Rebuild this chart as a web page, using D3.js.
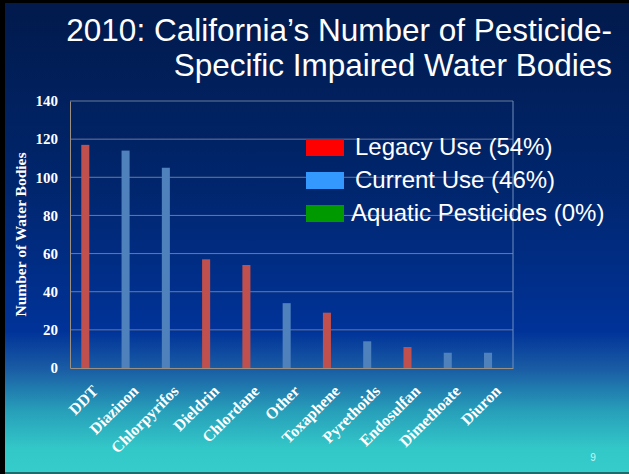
<!DOCTYPE html>
<html>
<head>
<meta charset="utf-8">
<script src="https://cdn.jsdelivr.net/npm/d3@7"></script>
<style>
  html, body { margin: 0; padding: 0; background: #000; }
  svg { display: block; }
</style>
</head>
<body>
<div id="chart"></div>
<script>
// Chart data
const categories = ["DDT", "Diazinon", "Chlorpyrifos", "Dieldrin", "Chlordane", "Other",
                    "Toxaphene", "Pyrethoids", "Endosulfan", "Dimethoate", "Diuron"];
const values = [117, 114, 105, 57, 54, 34, 29, 14, 11, 8, 8];
const useType = ["legacy", "current", "current", "legacy", "legacy", "current",
                 "legacy", "current", "legacy", "current", "current"];
const yTicks = [0, 20, 40, 60, 80, 100, 120, 140];
const legendLabels = ["Legacy Use (54%)", "Current Use (46%)", "Aquatic Pesticides (0%)"];
const legendColors = ["#ff0000", "#3399ff", "#009900"];
const titleLines = ["2010: California\u2019s Number of Pesticide-", "Specific Impaired Water Bodies"];

const W = 629, H = 474;
const barColor = { legacy: "#c0504d", current: "#4f81bd" };

const svg = d3.select("#chart").append("svg")
    .attr("width", W)
    .attr("height", H);

// Background gradient
const defs = svg.append("defs");
const grad = defs.append("linearGradient")
    .attr("id", "bg")
    .attr("x1", 0).attr("y1", 0).attr("x2", 0).attr("y2", 1);
grad.append("stop").attr("offset", "0%").attr("stop-color", "#021a4c");
grad.append("stop").attr("offset", "40%").attr("stop-color", "#00266e");
grad.append("stop").attr("offset", "70%").attr("stop-color", "#003399");
grad.append("stop").attr("offset", "78%").attr("stop-color", "#1a5ca4");
grad.append("stop").attr("offset", "87%").attr("stop-color", "#279fba");
grad.append("stop").attr("offset", "95%").attr("stop-color", "#33c8c8");
grad.append("stop").attr("offset", "100%").attr("stop-color", "#35cccb");

svg.append("rect")
    .attr("x", 5).attr("y", 3)
    .attr("width", W - 5).attr("height", H - 5)
    .attr("fill", "url(#bg)");
svg.append("rect")
    .attr("x", 5).attr("y", H - 2)
    .attr("width", W - 5).attr("height", 2)
    .attr("fill", "#1d6b6b");

// Title
svg.append("g").selectAll("text")
    .data(titleLines)
    .join("text")
    .attr("x", 612)
    .attr("y", (d, i) => 41 + i * 35)
    .attr("text-anchor", "end")
    .attr("font-family", "Liberation Sans, Arial, sans-serif")
    .attr("font-size", 31.5)
    .attr("fill", "#ffffff")
    .text(d => d);

// Plot area
const margin = { left: 70, right: 116, top: 101, bottom: 106 };
const innerW = W - margin.left - margin.right;
const innerH = H - margin.top - margin.bottom;

const x = d3.scaleBand()
    .domain(categories)
    .range([0, innerW])
    .padding(0);

const y = d3.scaleLinear()
    .domain([0, 140])
    .range([innerH, 0]);

const g = svg.append("g")
    .attr("transform", `translate(${margin.left},${margin.top})`);

// Gridlines
g.append("g")
    .selectAll("line")
    .data(yTicks.slice(1))
    .join("line")
    .attr("x1", 0).attr("x2", innerW)
    .attr("y1", d => y(d)).attr("y2", d => y(d))
    .attr("stroke", "#6a7a9a")
    .attr("stroke-width", 1);

// Right edge of plot border
g.append("line")
    .attr("x1", innerW).attr("x2", innerW)
    .attr("y1", 0).attr("y2", innerH)
    .attr("stroke", "#6f8fc0");

// Bars
const bw = x.bandwidth() * 0.2;
g.append("g")
    .selectAll("rect")
    .data(categories)
    .join("rect")
    .attr("x", (d) => x(d) + x.bandwidth() * 0.28)
    .attr("y", (d, i) => y(values[i]))
    .attr("width", bw)
    .attr("height", (d, i) => y(0) - y(values[i]))
    .attr("fill", (d, i) => barColor[useType[i]]);

// Y axis
const yAxis = g.append("g")
    .call(d3.axisLeft(y).tickValues(yTicks).tickSize(0).tickPadding(12));
yAxis.select(".domain").attr("stroke", "#9a8f80");
yAxis.selectAll("text")
    .attr("font-family", "Liberation Serif, Times New Roman, serif")
    .attr("font-weight", "bold")
    .attr("font-size", 15)
    .attr("fill", "#ffffff");

// X axis
const xAxis = g.append("g")
    .attr("transform", `translate(0,${innerH})`)
    .call(d3.axisBottom(x).tickSize(0).tickPadding(0));
xAxis.select(".domain").attr("stroke", "#9a8f80");
xAxis.selectAll("text")
    .attr("font-family", "Liberation Serif, Times New Roman, serif")
    .attr("font-weight", "bold")
    .attr("font-size", 16)
    .attr("fill", "#ffffff")
    .attr("text-anchor", "end")
    .attr("dy", 0)
    .attr("y", 0)
    .attr("transform", "translate(9,24) rotate(-45)");

// Y axis title
svg.append("text")
    .attr("transform", `translate(26,${margin.top + innerH / 2}) rotate(-90)`)
    .attr("text-anchor", "middle")
    .attr("font-family", "Liberation Serif, Times New Roman, serif")
    .attr("font-weight", "bold")
    .attr("font-size", 15.5)
    .attr("fill", "#ffffff")
    .text("Number of Water Bodies");

// Legend
const legend = svg.append("g")
    .selectAll("g")
    .data(legendLabels)
    .join("g")
    .attr("transform", (d, i) => `translate(306,${139 + i * 33})`);
legend.append("rect")
    .attr("width", 38).attr("height", 17)
    .attr("fill", (d, i) => legendColors[i]);
legend.append("text")
    .attr("x", (d, i) => i === 2 ? 45 : 49)
    .attr("y", 16)
    .attr("font-family", "Liberation Sans, Arial, sans-serif")
    .attr("font-size", 24)
    .attr("fill", "#ffffff")
    .text(d => d);

// Slide number
svg.append("text")
    .attr("x", 593).attr("y", 461)
    .attr("text-anchor", "middle")
    .attr("font-family", "Liberation Sans, Arial, sans-serif")
    .attr("font-size", 10)
    .attr("fill", "#c8f4f4")
    .text("9");
</script>
</body>
</html>
